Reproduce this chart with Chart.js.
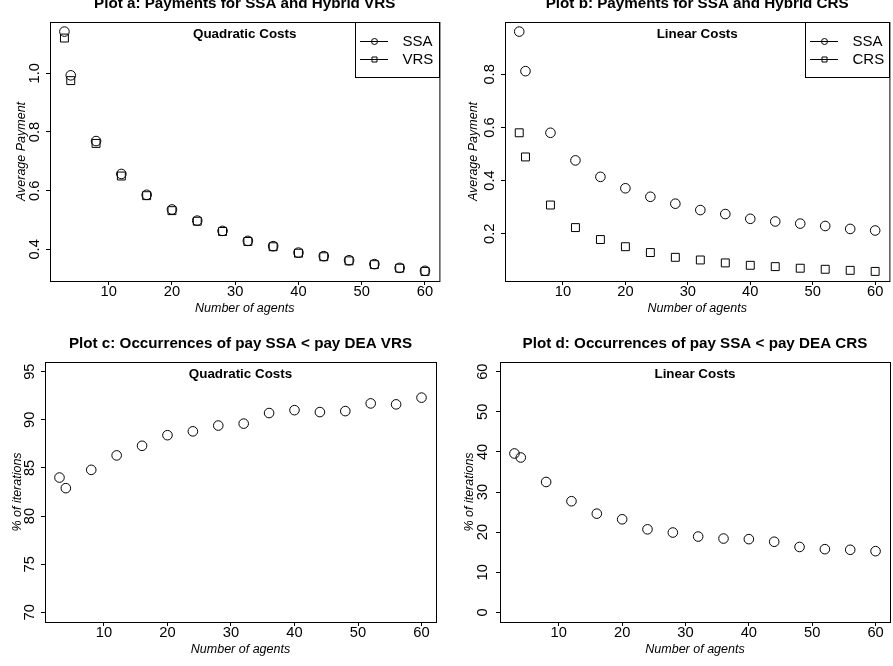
<!DOCTYPE html>
<html>
<head>
<meta charset="utf-8">
<script src="https://cdn.jsdelivr.net/npm/chart.js@4/dist/chart.umd.min.js"></script>
<style>
  body { margin: 0; background: #fff; }
  #wrap { position: relative; width: 893px; height: 666px; overflow: hidden; background: #fff; }
  #wrap canvas { position: absolute; }
</style>
</head>
<body>
<div id="wrap">
  <canvas id="plotA" width="446" height="341" style="left:0px;top:-8px"></canvas>
  <canvas id="plotB" width="450" height="341" style="left:446px;top:-8px"></canvas>
  <canvas id="plotC" width="446" height="333" style="left:0px;top:333px"></canvas>
  <canvas id="plotD" width="450" height="333" style="left:446px;top:333px"></canvas>
</div>
<script>
// number of agents (x values, shared by all four plots)
const agents = [3, 4, 8, 12, 16, 20, 24, 28, 32, 36, 40, 44, 48, 52, 56, 60];

// plot a: quadratic costs, average payment
const ssaQuad = [1.142, 0.993, 0.769, 0.657, 0.586, 0.536, 0.498, 0.463, 0.429, 0.411, 0.389, 0.377, 0.363, 0.350, 0.337, 0.327];
const vrsQuad = [1.120, 0.975, 0.761, 0.650, 0.583, 0.532, 0.496, 0.461, 0.427, 0.409, 0.387, 0.375, 0.361, 0.348, 0.336, 0.325];

// plot b: linear costs, average payment
const ssaLin = [0.961, 0.812, 0.580, 0.476, 0.414, 0.371, 0.339, 0.313, 0.289, 0.274, 0.256, 0.246, 0.238, 0.229, 0.218, 0.212];
const crsLin = [0.580, 0.489, 0.308, 0.223, 0.178, 0.151, 0.129, 0.111, 0.101, 0.090, 0.081, 0.076, 0.070, 0.066, 0.062, 0.058];

// plot c / d: % of iterations where pay SSA < pay DEA
const pctVrs = [84.0, 82.9, 84.8, 86.3, 87.3, 88.4, 88.8, 89.4, 89.6, 90.7, 91.0, 90.8, 90.9, 91.7, 91.6, 92.3];
const pctCrs = [39.6, 38.6, 32.5, 27.7, 24.6, 23.2, 20.7, 19.9, 18.9, 18.4, 18.25, 17.6, 16.3, 15.75, 15.6, 15.25];

// ticks
const xTicks = [10, 20, 30, 40, 50, 60];
const xLabels = ['10', '20', '30', '40', '50', '60'];
const yTicksA = [0.4, 0.6, 0.8, 1.0];
const yLabelsA = ['0.4', '0.6', '0.8', '1.0'];
const yTicksB = [0.2, 0.4, 0.6, 0.8];
const yLabelsB = ['0.2', '0.4', '0.6', '0.8'];
const yTicksC = [70, 75, 80, 85, 90, 95];
const yLabelsC = ['70', '75', '80', '85', '90', '95'];
const yTicksD = [0, 10, 20, 30, 40, 50, 60];
const yLabelsD = ['0', '10', '20', '30', '40', '50', '60'];

const FONT = "'Liberation Sans', Arial, Helvetica, sans-serif";
const TICK = 4;
const TICK_SIZE = 14.7;

// R style axis range: data range widened by 4% on each side
function rRange(vals) {
  const lo = Math.min(...vals), hi = Math.max(...vals);
  const pad = (hi - lo) * 0.04;
  return [lo - pad, hi + pad];
}

const mctx = document.createElement('canvas').getContext('2d');
function textWidth(str, size) {
  mctx.font = size + 'px ' + FONT;
  return mctx.measureText(str).width;
}

// box, subtitle and legend drawn inside the plot region
const rBox = {
  id: 'rBox',
  afterDraw(chart, args, opts) {
    const {ctx, chartArea: ca} = chart;
    ctx.save();
    ctx.strokeStyle = '#000';
    ctx.lineWidth = 1;
    ctx.strokeRect(ca.left + 0.5, ca.top + 0.5, ca.right - ca.left, ca.bottom - ca.top);

    ctx.fillStyle = '#000';
    ctx.font = 'bold 13.4px ' + FONT;
    ctx.textAlign = 'center';
    ctx.textBaseline = 'middle';
    ctx.fillText(opts.sub, (ca.left + ca.right) / 2, ca.top + 12);

    if (opts.legend) {
      const bx = Math.round(ca.right - 84);
      ctx.strokeRect(bx + 0.5, ca.top + 0.5, 84, 55);
      ctx.font = '15px ' + FONT;
      ctx.textAlign = 'left';
      chart.data.datasets.forEach((ds, i) => {
        const y = Math.round(ca.top + 18.5 + 18 * i) + 0.5;
        ctx.beginPath();
        ctx.moveTo(bx + 5, y);
        ctx.lineTo(bx + 33, y);
        ctx.stroke();
        const mx = bx + 19.5;
        ctx.beginPath();
        if (ds.pointStyle === 'rect') ctx.rect(mx - 2.5, y - 2.5, 5, 5);
        else ctx.arc(mx, y, 3, 0, Math.PI * 2);
        ctx.stroke();
        ctx.fillText(ds.label, bx + 47.5, y + 0.5);
      });
    }
    ctx.restore();
  }
};

function makePlot(id, spec) {
  const c = spec.canvas, a = spec.area;
  const titleSize = 15.2;
  const titleTop = (a.t - 18) - c.y - titleSize / 2;
  const titleBottom = a.t - c.y - titleTop - titleSize;

  const widest = Math.max(...spec.yLabels.map(s => textWidth(s, TICK_SIZE)));
  const yPad = (a.l - spec.yLabelX) - TICK - widest / 2;
  const yTitlePad = spec.yTitleX - c.x - 12.5 / 2;
  const xPad = 10.5 - TICK - TICK_SIZE / 2;
  const xTitlePad = (c.y + c.h) - (a.b + 27.5) - 12.5 / 2;

  const datasets = spec.series.map(s => ({
    label: s.label,
    data: agents.map((x, i) => ({x: x, y: s.values[i]})),
    pointStyle: s.shape,
    pointRadius: s.shape === 'rect' ? 5.6 : 4.8,
    pointBorderColor: '#000',
    pointBackgroundColor: 'rgba(0,0,0,0)',
    pointBorderWidth: 1,
    showLine: false
  }));

  const tickFont = {size: TICK_SIZE, family: FONT, lineHeight: 1};
  const titleFont = {size: 12.5, family: FONT, style: 'italic', lineHeight: 1};
  const grid = {drawOnChartArea: false, drawTicks: true, tickLength: TICK, color: '#000', lineWidth: 1};

  return new Chart(document.getElementById(id), {
    type: 'scatter',
    data: {datasets},
    plugins: [rBox],
    options: {
      responsive: false,
      devicePixelRatio: 1,
      animation: false,
      events: [],
      layout: {padding: {left: 0, top: 0, bottom: 0, right: c.x + c.w - a.r}},
      plugins: {
        legend: {display: false},
        tooltip: {enabled: false},
        title: {
          display: true,
          text: spec.title,
          fullSize: false,
          color: '#000',
          font: {size: titleSize, weight: 'bold', family: FONT, lineHeight: 1},
          padding: {top: titleTop, bottom: titleBottom}
        },
        rBox: {sub: spec.sub, legend: spec.legend}
      },
      scales: {
        x: {
          type: 'linear',
          position: 'bottom',
          min: spec.xRange[0],
          max: spec.xRange[1],
          afterBuildTicks: ax => { ax.ticks = xTicks.map(v => ({value: v})); },
          afterFit: ax => { ax.height = c.y + c.h - a.b; },
          ticks: {callback: (v, i) => xLabels[i], font: tickFont, color: '#000', padding: xPad, maxRotation: 0, autoSkip: false},
          grid: grid,
          border: {display: false},
          title: {display: true, text: 'Number of agents', color: '#000', font: titleFont, padding: {top: 0, bottom: xTitlePad}}
        },
        y: {
          type: 'linear',
          position: 'left',
          min: spec.yRange[0],
          max: spec.yRange[1],
          afterBuildTicks: ax => { ax.ticks = spec.yTicks.map(v => ({value: v})); },
          afterFit: ax => { ax.width = a.l - c.x; },
          ticks: {callback: (v, i) => spec.yLabels[i], font: tickFont, color: '#000', padding: yPad, minRotation: 90, maxRotation: 90, crossAlign: 'center', autoSkip: false},
          grid: grid,
          border: {display: false},
          title: {display: true, text: spec.yTitle, color: '#000', font: titleFont, padding: {top: yTitlePad, bottom: 0}}
        }
      }
    }
  });
}

const xRange = rRange(agents);

makePlot('plotA', {
  canvas: {x: 0, y: -8, w: 446, h: 341},
  area: {l: 50, t: 22, r: 441, b: 281},
  title: 'Plot a: Payments for SSA and Hybrid VRS',
  sub: 'Quadratic Costs',
  yTitle: 'Average Payment',
  yLabelX: 34.5, yTitleX: 21.3,
  xRange: xRange,
  yRange: rRange([...ssaQuad, ...vrsQuad]),
  yTicks: yTicksA, yLabels: yLabelsA,
  legend: true,
  series: [{label: 'SSA', values: ssaQuad, shape: 'circle'}, {label: 'VRS', values: vrsQuad, shape: 'rect'}]
});

makePlot('plotB', {
  canvas: {x: 446, y: -8, w: 450, h: 341},
  area: {l: 505, t: 22, r: 895, b: 281},
  title: 'Plot b: Payments for SSA and Hybrid CRS',
  sub: 'Linear Costs',
  yTitle: 'Average Payment',
  yLabelX: 489.8, yTitleX: 473.8,
  xRange: xRange,
  yRange: rRange([...ssaLin, ...crsLin]),
  yTicks: yTicksB, yLabels: yLabelsB,
  legend: true,
  series: [{label: 'SSA', values: ssaLin, shape: 'circle'}, {label: 'CRS', values: crsLin, shape: 'rect'}]
});

makePlot('plotC', {
  canvas: {x: 0, y: 333, w: 446, h: 333},
  area: {l: 45, t: 362, r: 436, b: 622},
  title: 'Plot c: Occurrences of pay SSA < pay DEA VRS',
  sub: 'Quadratic Costs',
  yTitle: '% of iterations',
  yLabelX: 30, yTitleX: 17.2,
  xRange: xRange,
  yRange: rRange([70, 95]),
  yTicks: yTicksC, yLabels: yLabelsC,
  legend: false,
  series: [{label: 'VRS', values: pctVrs, shape: 'circle'}]
});

makePlot('plotD', {
  canvas: {x: 446, y: 333, w: 450, h: 333},
  area: {l: 500, t: 362, r: 890, b: 622},
  title: 'Plot d: Occurrences of pay SSA < pay DEA CRS',
  sub: 'Linear Costs',
  yTitle: '% of iterations',
  yLabelX: 483, yTitleX: 469.3,
  xRange: xRange,
  yRange: rRange([0, 60]),
  yTicks: yTicksD, yLabels: yLabelsD,
  legend: false,
  series: [{label: 'CRS', values: pctCrs, shape: 'circle'}]
});
</script>
</body>
</html>
